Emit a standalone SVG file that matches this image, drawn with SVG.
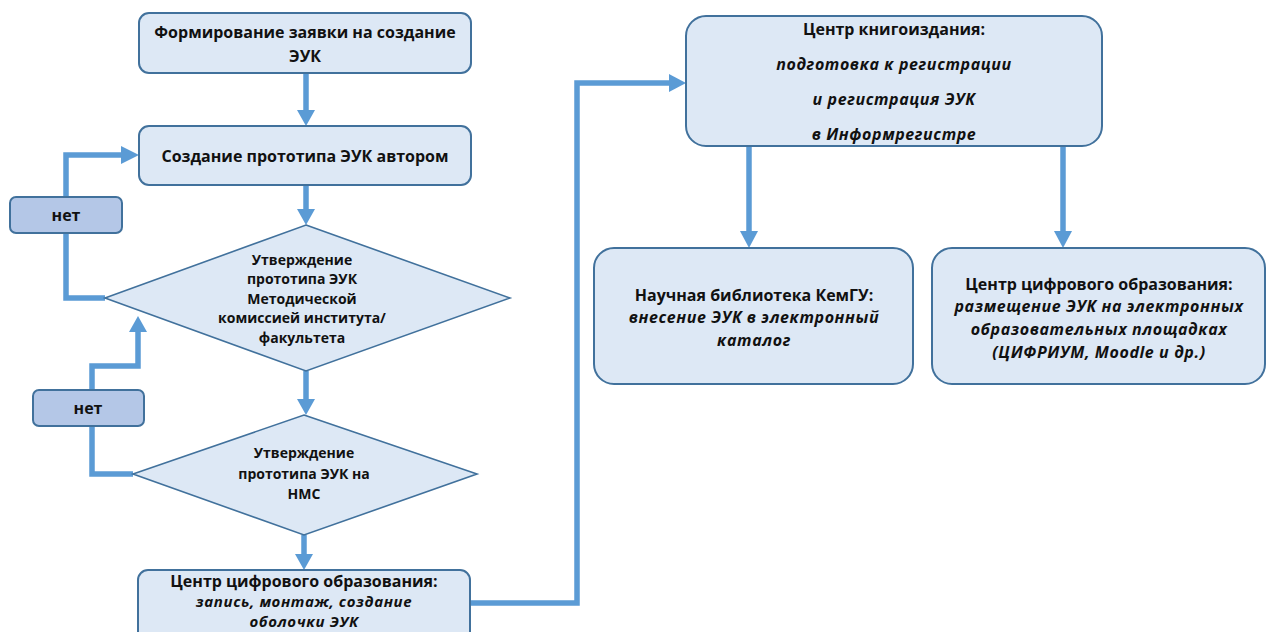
<svg xmlns="http://www.w3.org/2000/svg" width="1267" height="632" viewBox="0 0 1267 632">
<defs>
<style>
.box{fill:#dde8f5;stroke:#41719c;stroke-width:2}
.no{fill:#b4c7e7;stroke:#41719c;stroke-width:2}
.dia{fill:#dde8f5;stroke:#41719c;stroke-width:1.6}
.t{font-family:"Open Sans","Liberation Sans",sans-serif;font-size:16px;font-weight:bold;fill:#111;text-anchor:middle}
.s{font-size:14px}
.m{font-size:15px}
.i{font-style:italic;letter-spacing:0.6px}
.c{fill:none;stroke:#5b9bd5;stroke-width:5.5}
.ah{fill:#5b9bd5}
</style>
</defs>
<rect width="1267" height="632" fill="#fff"/>
<g id="connectors">
<path class="c" d="M306 73V112"/>
<path class="ah" d="M297 110H315L306 126Z"/>
<path class="c" d="M306 185V211"/>
<path class="ah" d="M297 209H315L306 225Z"/>
<path class="c" d="M306 371V401"/>
<path class="ah" d="M297 399H315L306 415Z"/>
<path class="c" d="M304 535V556"/>
<path class="ah" d="M295 554H313L304 570Z"/>
<path class="c" d="M105 298H66V155H124"/>
<path class="ah" d="M121 146V164L139 155Z"/>
<path class="c" d="M133 474H92V366H138V330"/>
<path class="ah" d="M129 332H147L138 316Z"/>
<path class="c" d="M470 603H577V83H672"/>
<path class="ah" d="M669 74V92L686 83Z"/>
<path class="c" d="M749 146V232"/>
<path class="ah" d="M740 231H758L749 248Z"/>
<path class="c" d="M1063 146V232"/>
<path class="ah" d="M1054 231H1072L1063 248Z"/>
</g>
<g id="n1"><rect class="box" x="139" y="13" width="332" height="60" rx="10"/>
<text class="t" x="305" y="38">Формирование заявки на создание</text>
<text class="t" x="305" y="62">ЭУК</text></g>
<g id="n2"><rect class="box" x="139" y="126" width="332" height="59" rx="10"/>
<text class="t" x="305" y="162">Создание прототипа ЭУК автором</text></g>
<g id="no1"><rect class="no" x="10" y="197" width="112" height="36" rx="6"/>
<text class="t" x="66" y="221">нет</text></g>
<g id="d1"><path class="dia" d="M306 225L510 298L306 371L105 298Z"/>
<text class="t s" x="302" y="265">Утверждение</text>
<text class="t s" x="302" y="284">прототипа ЭУК</text>
<text class="t s" x="302" y="304">Методической</text>
<text class="t s" x="302" y="323">комиссией института/</text>
<text class="t s" x="302" y="343">факультета</text></g>
<g id="no2"><rect class="no" x="33" y="390" width="111" height="36" rx="6"/>
<text class="t" x="88" y="414">нет</text></g>
<g id="d2"><path class="dia" d="M304 415L477 474L304 535L133 474Z"/>
<text class="t s" x="304" y="458">Утверждение</text>
<text class="t s" x="304" y="479">прототипа ЭУК на</text>
<text class="t s" x="304" y="499">НМС</text></g>
<g id="n3"><rect class="box" x="138" y="570" width="332" height="80" rx="10"/>
<text class="t" x="304" y="587">Центр цифрового образования:</text>
<text class="t m i" x="304" y="607">запись, монтаж, создание</text>
<text class="t m i" x="304" y="627">оболочки ЭУК</text></g>
<g id="n4"><rect class="box" x="686" y="16" width="416" height="130" rx="20"/>
<text class="t" x="894" y="35">Центр книгоиздания:</text>
<text class="t i" x="894" y="70">подготовка к регистрации</text>
<text class="t i" x="894" y="105">и регистрация ЭУК</text>
<text class="t i" x="894" y="140">в Информрегистре</text></g>
<g id="n5"><rect class="box" x="594" y="248" width="319" height="136" rx="20"/>
<text class="t" x="754" y="301">Научная библиотека КемГУ:</text>
<text class="t i" x="754" y="323">внесение ЭУК в электронный</text>
<text class="t i" x="754" y="346">каталог</text></g>
<g id="n6"><rect class="box" x="932" y="248" width="333" height="136" rx="20"/>
<text class="t" x="1099" y="290">Центр цифрового образования:</text>
<text class="t i" x="1099" y="312">размещение ЭУК на электронных</text>
<text class="t i" x="1099" y="335">образовательных площадках</text>
<text class="t i" x="1099" y="358">(ЦИФРИУМ, Moodle и др.)</text></g>
</svg>
